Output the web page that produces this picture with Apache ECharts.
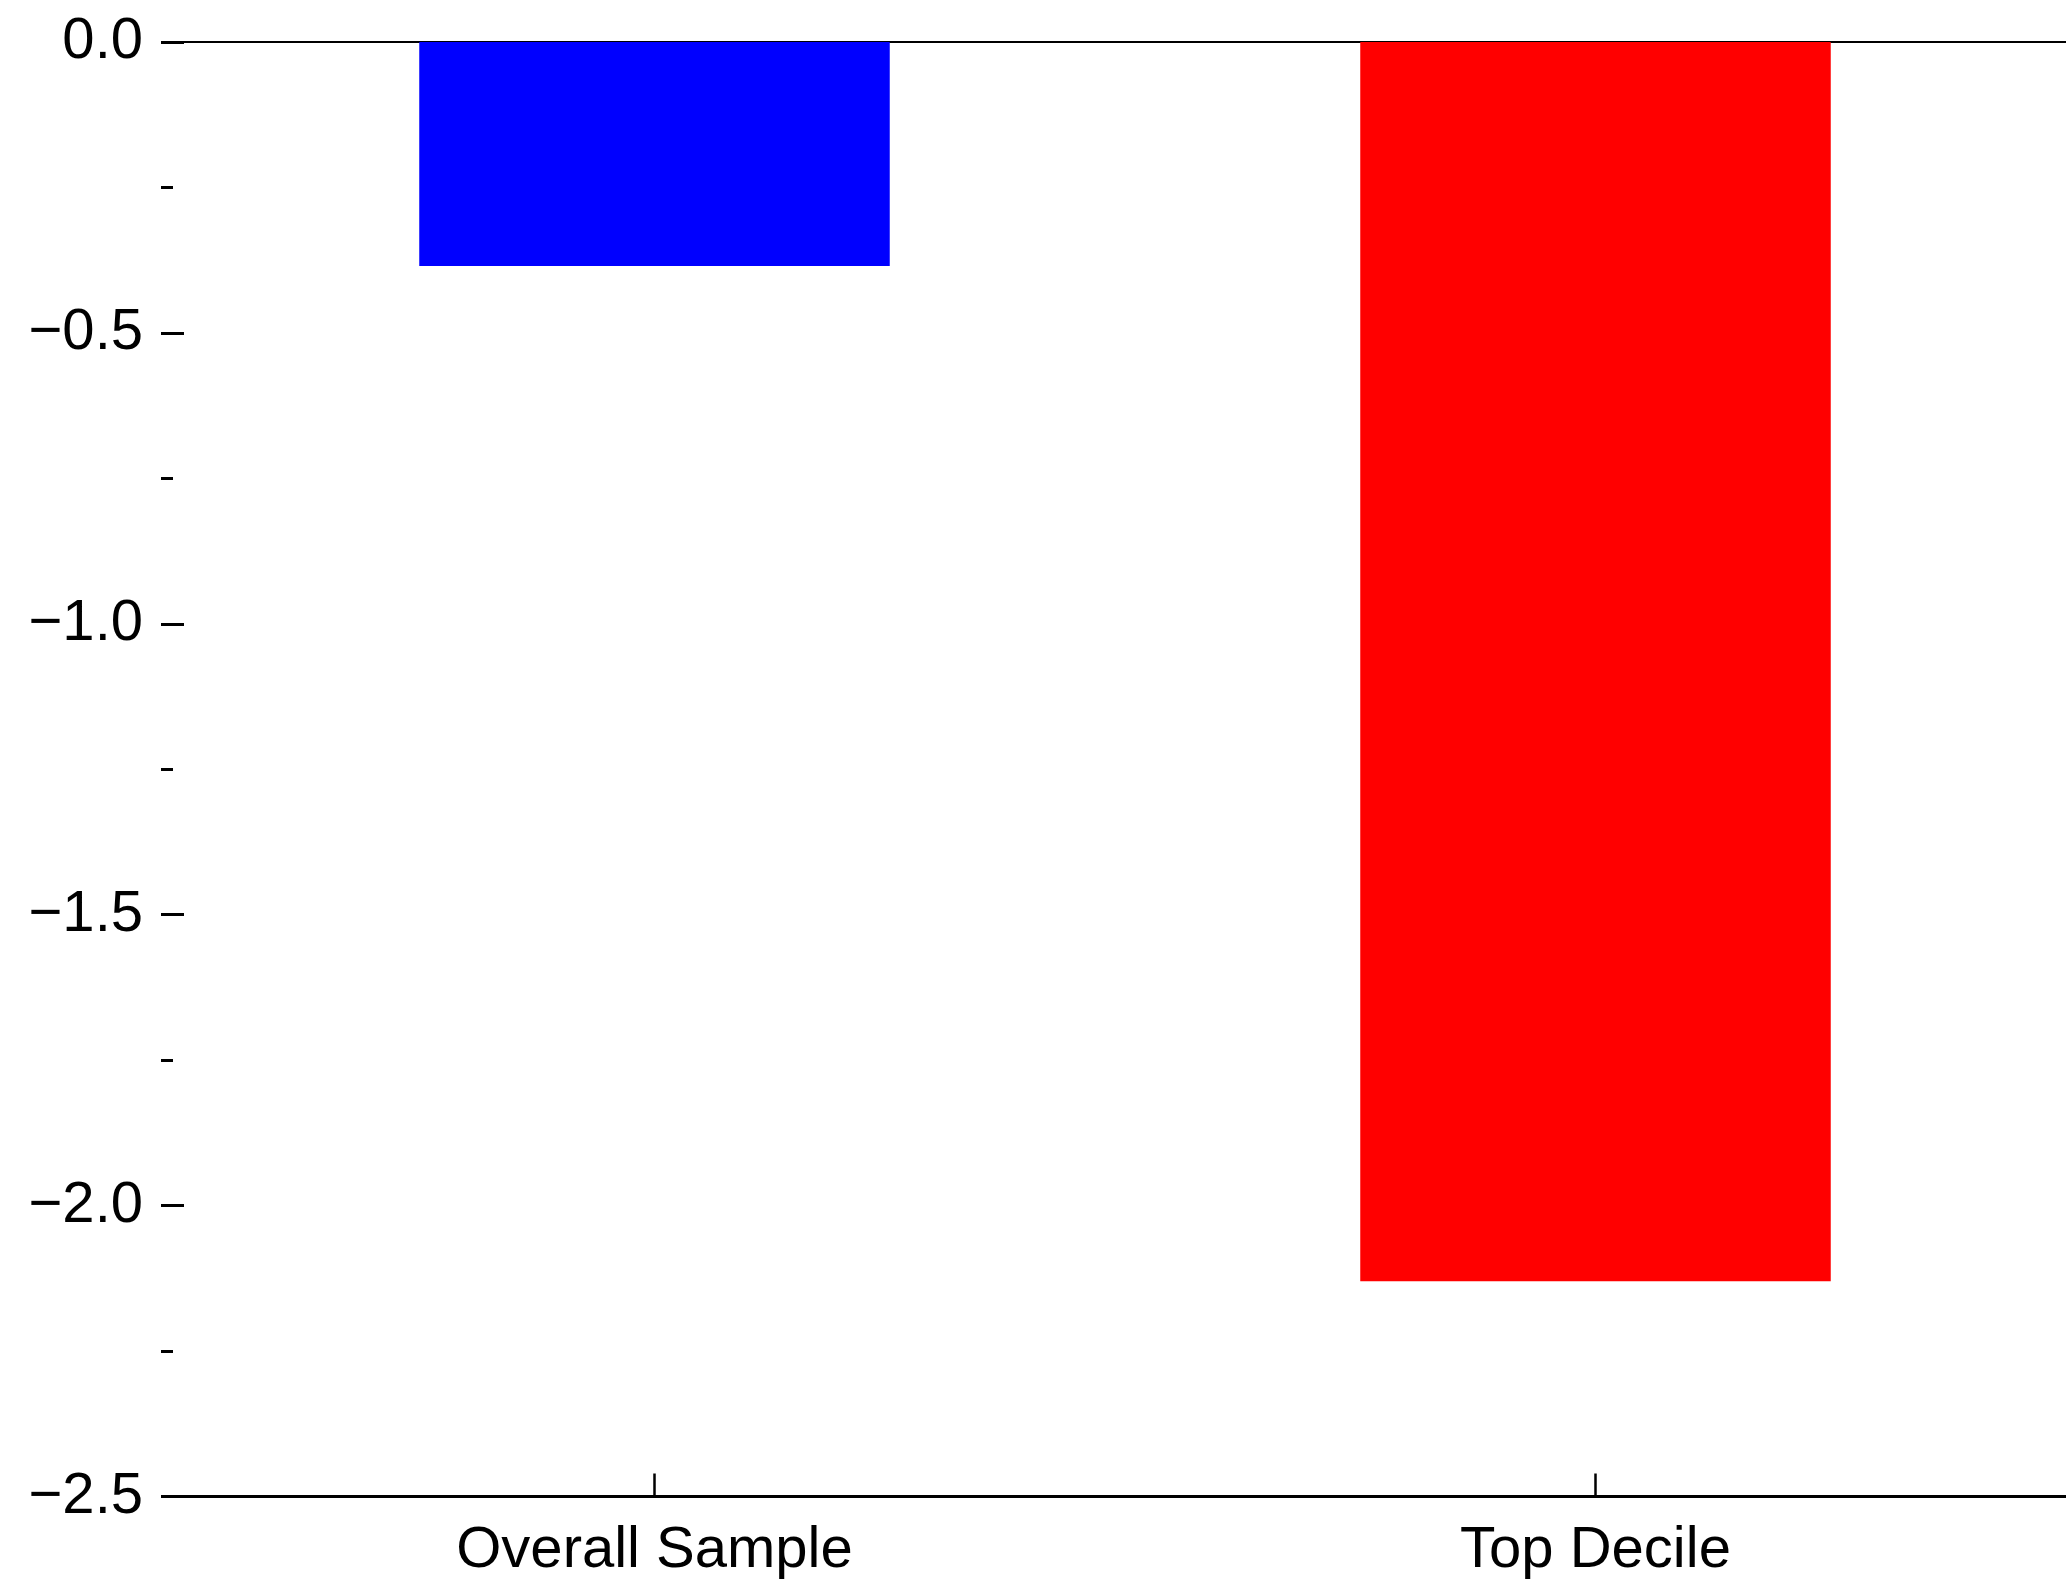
<!DOCTYPE html>
<html>
<head>
<meta charset="utf-8">
<script src="https://cdn.jsdelivr.net/npm/echarts@6/dist/echarts.min.js"></script>
<style>
html,body{margin:0;padding:0;background:#fff;}
#c{width:2066px;height:1580px;}
</style>
</head>
<body>
<div id="c"></div>
<script>
var categories = ['Overall Sample', 'Top Decile'];
var values = [-0.385, -2.13];
var barColors = ['#0000ff', '#ff0000'];
var yTicks = [0, -0.5, -1.0, -1.5, -2.0, -2.5];

var FONT = '"Liberation Sans Narrow", "Arial Narrow", "Liberation Sans", Arial, sans-serif';
var FS = 58;

function fmt(v) {
  var s = Math.abs(v).toFixed(1);
  return v < 0 ? '\u2212' + s : s;
}

var chart = echarts.init(document.getElementById('c'), null, {renderer: 'canvas'});
chart.setOption({
  animation: false,
  backgroundColor: '#fff',
  grid: {left: 184, top: 42, width: 1888, height: 1454.5, containLabel: false},
  xAxis: [{
    type: 'category',
    data: categories,
    position: 'bottom',
    axisLine: {show: true, onZero: false, lineStyle: {color: '#000', width: 3}},
    axisTick: {show: true, inside: true, length: 23, alignWithLabel: true, lineStyle: {color: '#000', width: 2.5}},
    axisLabel: {show: true, color: '#000', fontSize: FS, fontFamily: FONT, margin: 25},
    splitLine: {show: false}
  }, {
    type: 'category',
    data: categories,
    position: 'top',
    axisLine: {show: true, onZero: false, lineStyle: {color: '#000', width: 2}},
    axisTick: {show: false},
    axisLabel: {show: false},
    splitLine: {show: false}
  }],
  yAxis: [{
    type: 'value',
    min: yTicks[yTicks.length - 1],
    max: yTicks[0],
    interval: 0.5,
    position: 'left',
    axisLine: {show: false, onZero: false},
    axisTick: {show: true, length: 23, lineStyle: {color: '#000', width: 3}},
    axisLabel: {show: true, color: '#000', fontSize: FS, fontFamily: FONT, margin: 41, formatter: fmt},
    splitLine: {show: false}
  }, {
    type: 'value',
    min: yTicks[yTicks.length - 1],
    max: yTicks[0],
    interval: 0.5,
    position: 'left',
    offset: 11,
    axisLine: {show: false, onZero: false},
    axisTick: {show: false},
    axisLabel: {show: false},
    minorTick: {show: true, splitNumber: 2, length: 12, lineStyle: {color: '#000', width: 3}},
    splitLine: {show: false}
  }],
  series: [{
    type: 'bar',
    xAxisIndex: 0,
    yAxisIndex: 0,
    barWidth: '50%',
    data: values.map(function (v, i) {
      return {value: v, itemStyle: {color: barColors[i]}};
    })
  }]
});
</script>
</body>
</html>
